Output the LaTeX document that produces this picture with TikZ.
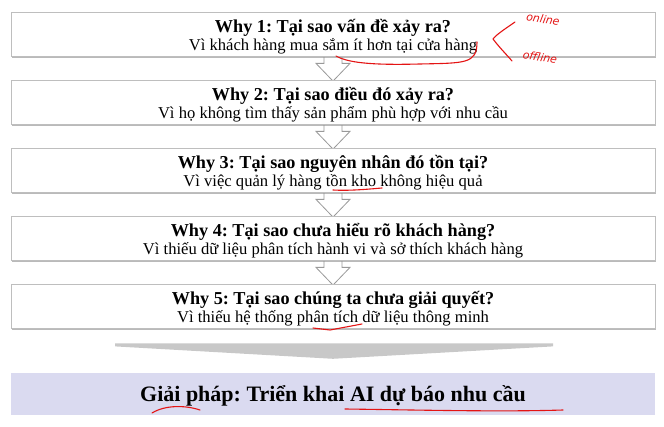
\documentclass[tikz,border=0pt]{standalone}
\usepackage{fontspec}
\setmainfont{Liberation Serif}
\newfontfamily\handfont{DejaVu Sans}
\usetikzlibrary{calc,shadows,backgrounds}
\definecolor{boxline}{RGB}{190,190,190}
\definecolor{lav}{RGB}{218,218,240}
\definecolor{wedgegray}{RGB}{200,200,200}
\definecolor{ink}{RGB}{228,20,20}
\frenchspacing
\tikzset{
  whybox/.style={draw=boxline, line width=0.8pt, fill=white, minimum width=644pt, minimum height=44pt, inner sep=0pt,
    drop shadow={shadow xshift=1.2pt, shadow yshift=-1.8pt, fill=black!45, opacity=0.6}},
  whytitle/.style={anchor=base, inner sep=0pt, font=\fontsize{18.2}{20}\selectfont\bfseries},
  whysub/.style={anchor=base, inner sep=0pt, font=\fontsize{16.6}{18}\selectfont},
  solbox/.style={fill=lav, draw=none, minimum width=644pt, minimum height=42pt, inner sep=0pt},
  soltext/.style={anchor=base, inner sep=0pt, font=\fontsize{22}{24}\selectfont\bfseries},
  conn/.style={draw=black!40, fill=white, line width=0.8pt, line join=miter},
  funnel/.style={fill=wedgegray, draw=none},
  redink/.style={draw=ink, line width=1.1pt, line cap=round, line join=round},
  handnote/.style={text=ink, inner sep=0pt, font=\handfont\fontsize{11}{12}\selectfont\itshape}
}
\begin{document}
\begin{tikzpicture}[x=1pt, y=-1pt]
\useasboundingbox (0,0) rectangle (664,427);

% boxes
\node[whybox] (b1) at (333,34) {};
\node[whybox] (b2) at (333,102) {};
\node[whybox] (b3) at (333,170) {};
\node[whybox] (b4) at (333,238) {};
\node[whybox] (b5) at (333,306) {};
\node[solbox] (sol) at (333,394) {};

% texts
\node[whytitle] (t1) at (333,33) {Why 1: Tại sao vấn đề xảy ra?};
\node[whysub]   (s1) at (333,51) {Vì khách hàng mua sắm ít hơn tại cửa hàng};
\node[whytitle] (t2) at (333,101) {Why 2: Tại sao điều đó xảy ra?};
\node[whysub]   (s2) at (333,119) {Vì họ không tìm thấy sản phẩm phù hợp với nhu cầu};
\node[whytitle] (t3) at (333,169) {Why 3: Tại sao nguyên nhân đó tồn tại?};
\node[whysub]   (s3) at (333,187) {Vì việc quản lý hàng tồn kho không hiệu quả};
\node[whytitle] (t4) at (333,237) {Why 4: Tại sao chưa hiểu rõ khách hàng?};
\node[whysub]   (s4) at (333,255) {Vì thiếu dữ liệu phân tích hành vi và sở thích khách hàng};
\node[whytitle] (t5) at (333,305) {Why 5: Tại sao chúng ta chưa giải quyết?};
\node[whysub]   (s5) at (333,323) {Vì thiếu hệ thống phân tích dữ liệu thông minh};
\node[soltext]  (st) at (333,402) {Giải pháp: Triển khai AI dự báo nhu cầu};

% connectors (behind boxes)
\begin{pgfonlayer}{background}
\foreach \a/\b in {b1/b2,b2/b3,b3/b4,b4/b5}{
  \draw[conn] ($(\a.south)+(-9,-2)$) -- ($(\a.south)+(-9,7)$) -- ($(\a.south)+(-17,7)$)
    -- ($(\b.north)+(0,1.5)$) -- ($(\a.south)+(17,7)$) -- ($(\a.south)+(9,7)$) -- ($(\a.south)+(9,-2)$) -- cycle;
}
\end{pgfonlayer}

% funnel wedge from last box to solution
\fill[funnel] ($(b5.south)+(-218,15)$) -- ($(b5.south)+(220,15)$) -- ($(b5.south)+(220,18)$)
  -- ($(sol.north)+(0,-14)$) -- ($(b5.south)+(-218,18)$) -- cycle;

% red hand annotations
\draw[redink] (336,56) .. controls (350,64) and (380,65) .. (420,64) .. controls (465,63) and (477,64) .. (477,42);
\draw[redink] (515,22) .. controls (505,29) and (497,34) .. (493,39) .. controls (499,47) and (506,54) .. (512,61);
\node[handnote, rotate=-10] (on) at (543,19) {online};
\node[handnote, rotate=-10] (off) at (540,57) {offline};
\draw[redink] (333,190) .. controls (350,191) and (370,189) .. (382,188);
\draw[redink] (313,328) -- (330,330) -- (362,324);
\draw[redink] (152,413) .. controls (165,405) and (185,405) .. (200,410);
\draw[redink] (345,409) .. controls (420,410) and (500,412) .. (563,410);
\end{tikzpicture}
\end{document}
